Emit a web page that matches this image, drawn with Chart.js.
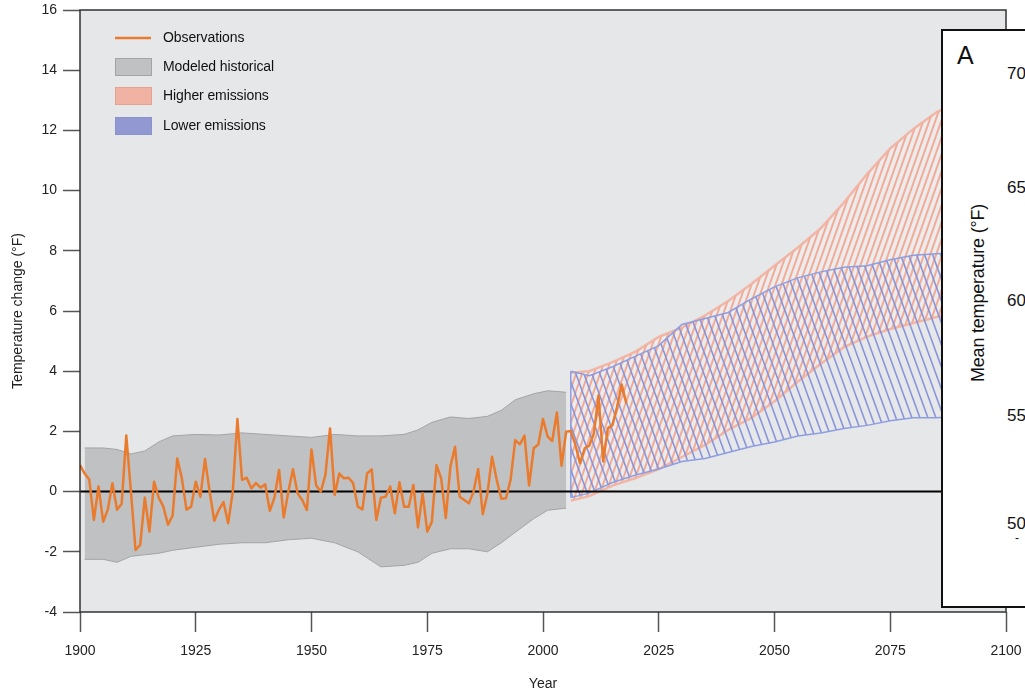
<!DOCTYPE html>
<html>
<head>
<meta charset="utf-8">
<script src="https://cdn.jsdelivr.net/npm/chart.js@4.4.1/dist/chart.umd.min.js"></script>
<style>
  html, body { margin: 0; padding: 0; background: #fff; overflow: hidden; }
  #wrap { position: relative; width: 1025px; height: 693px; }
  canvas { display: block; }
  #inset { position: absolute; left: 941px; top: 29px; width: 130px; height: 575px;
           border: 2px solid #111; background: #fff; font-family: 'Liberation Sans', Arial, sans-serif; color: #111; }
  #inset .lbl { position: absolute; white-space: nowrap; }
</style>
</head>
<body>
<div id="wrap">
  <canvas id="c" width="1025" height="693"></canvas>
  <div id="inset">
    <div class="lbl" style="left:14px; top:10px; font-size:25px;">A</div>
    <div class="lbl" style="left:35px; top:262px; font-size:18px; letter-spacing:-0.2px; transform:translate(-50%,-50%) rotate(-90deg);">Mean temperature (°F)</div>
    <div class="lbl" style="left:64px; top:33px; font-size:17px;">70</div>
    <div class="lbl" style="left:64px; top:147px; font-size:17px;">65</div>
    <div class="lbl" style="left:64px; top:260px; font-size:17px;">60</div>
    <div class="lbl" style="left:64px; top:375px; font-size:17px;">55</div>
    <div class="lbl" style="left:64px; top:483px; font-size:17px;">50</div>
    <div class="lbl" style="left:72px; top:500px; font-size:12px;">-</div>
  </div>
</div>
<script>
// ---------- data ----------
const obsFirstYear = 1900;
const observations = [
  0.88, 0.6, 0.4, -0.94, 0.17, -1.0, -0.6, 0.28, -0.6, -0.4,
  1.86, 0.0, -1.94, -1.77, -0.2, -1.33, 0.33, -0.2, -0.5, -1.1,
  -0.8, 1.1, 0.44, -0.6, -0.5, 0.33, -0.17, 1.08, 0.0, -0.97,
  -0.6, -0.35, -1.05, 0.0, 2.41, 0.39, 0.46, 0.11, 0.28, 0.13,
  0.24, -0.64, -0.2, 0.72, -0.86, 0.0, 0.74, -0.06, -0.28, -0.61,
  1.4, 0.2, 0.0, 0.55, 2.1, -0.11, 0.6, 0.44, 0.46, 0.28,
  -0.5, -0.59, 0.6, 0.74, -0.94, -0.2, -0.17, 0.17, -0.72, 0.31,
  -0.5, -0.5, 0.22, -1.19, -0.05, -1.33, -1.0, 0.88, 0.44, -0.88,
  0.83, 1.49, -0.17, -0.28, -0.39, 0.0, 0.75, -0.75, -0.06, 1.16,
  0.39, -0.24, -0.22, 0.39, 1.71, 1.57, 1.86, 0.2, 1.44, 1.57,
  2.41, 1.83, 1.68, 2.63, 0.86, 1.99, 2.01, 1.55, 0.94, 1.44,
  1.53, 1.94, 3.19, 1.0, 2.1, 2.21, 2.82, 3.56, 2.93
];

const histYears = [1901,1905,1908,1911,1914,1917,1920,1925,1930,1935,1940,1945,1950,1955,1960,1965,1970,1973,1976,1980,1984,1988,1991,1994,1998,2001,2005];
const histUpper = [1.45,1.45,1.4,1.25,1.35,1.65,1.85,1.9,1.88,1.95,1.9,1.85,1.8,1.9,1.85,1.85,1.9,2.05,2.3,2.48,2.43,2.5,2.7,3.05,3.25,3.35,3.3];
const histLower = [-2.25,-2.25,-2.35,-2.15,-2.1,-2.05,-1.95,-1.85,-1.75,-1.7,-1.7,-1.6,-1.55,-1.7,-2.0,-2.5,-2.45,-2.35,-2.05,-1.9,-1.9,-2.0,-1.7,-1.35,-0.9,-0.62,-0.55];

const projYears   = [2006,2010,2015,2020,2025,2030,2035,2040,2045,2050,2055,2060,2065,2070,2075,2080,2085,2090];
const higherUpper = [3.95,4.0,4.3,4.65,5.14,5.45,5.85,6.33,6.9,7.5,8.1,8.75,9.6,10.55,11.4,12.05,12.6,13.0];
const higherLower = [-0.3,-0.15,0.2,0.45,0.75,1.15,1.55,2.05,2.45,3.0,3.65,4.25,4.8,5.15,5.4,5.6,5.8,5.95];
const lowerUpper  = [4.0,3.85,4.15,4.5,4.85,5.55,5.75,5.95,6.4,6.8,7.1,7.3,7.45,7.5,7.7,7.85,7.9,7.95];
const lowerLower  = [-0.2,-0.05,0.3,0.55,0.75,1.0,1.1,1.3,1.5,1.65,1.85,1.95,2.1,2.2,2.35,2.45,2.45,2.5];

const zeroYears = [1900, 2100];
const zeroValues = [0, 0];

const legendLabels = ['Observations', 'Modeled historical', 'Higher emissions', 'Lower emissions'];
const yTicksRange = { min: -4, max: 16, step: 2 };
const xTicksRange = { min: 1900, max: 2100, step: 25 };

// ---------- helpers ----------
const pts = (xs, ys) => xs.map((x, i) => ({ x: x, y: ys[i] }));
const obsPts = observations.map((v, i) => ({ x: obsFirstYear + i, y: v }));

function makeHatch(color, dir, spacing, lineW, bg) {
  const w = spacing, h = Math.round(spacing * 2.8);
  const c = document.createElement('canvas');
  c.width = w; c.height = h;
  const g = c.getContext('2d');
  if (bg) { g.fillStyle = bg; g.fillRect(0, 0, w, h); }
  g.strokeStyle = color; g.lineWidth = lineW;
  for (let k = -1; k <= 1; k++) {
    g.beginPath();
    if (dir > 0) { g.moveTo(k * w - w, 2 * h); g.lineTo(k * w + 2 * w, -h); }
    else { g.moveTo(k * w - w, -h); g.lineTo(k * w + 2 * w, 2 * h); }
    g.stroke();
  }
  return g.createPattern(c, 'repeat');
}

const ctx = document.getElementById('c').getContext('2d');
const pinkHatch = makeHatch('rgba(240,168,148,0.95)', 1, 6, 2, 'rgba(255,250,248,0.3)');
const blueHatch = makeHatch('rgba(132,144,218,0.95)', -1, 8, 1.6, null);

const FONT = "'Liberation Sans', Arial, sans-serif";

const decor = {
  id: 'decor',
  beforeDraw(chart) {
    const { ctx, chartArea: a } = chart;
    ctx.save();
    ctx.fillStyle = '#e6e7e8';
    ctx.fillRect(a.left, a.top, a.right - a.left, a.bottom - a.top);
    ctx.restore();
  },
  afterDatasetDraw(chart, args) {
    if (args.index !== 5) return;
    const { ctx } = chart;
    const xs = chart.scales.x, ys = chart.scales.y;
    ctx.save();
    ctx.strokeStyle = '#8e9ee0';
    ctx.lineWidth = 1.5;
    const x = xs.getPixelForValue(projYears[0]);
    ctx.beginPath();
    ctx.moveTo(x, ys.getPixelForValue(lowerUpper[0]));
    ctx.lineTo(x, ys.getPixelForValue(lowerLower[0]));
    ctx.stroke();
    ctx.restore();
  },
  afterDraw(chart) {
    const { ctx, chartArea: a } = chart;
    ctx.save();
    ctx.strokeStyle = '#333';
    ctx.lineWidth = 1.5;
    ctx.strokeRect(a.left, a.top, a.right - a.left, a.bottom - a.top);
    // legend
    const lx = a.left + 35, tx = a.left + 83;
    const rows = [a.top + 28, a.top + 57, a.top + 86, a.top + 116];
    ctx.strokeStyle = '#ea7b2c'; ctx.lineWidth = 2.5;
    ctx.beginPath(); ctx.moveTo(lx, rows[0]); ctx.lineTo(lx + 36, rows[0]); ctx.stroke();
    const boxes = [
      { fill: '#c0c1c3', stroke: '#a3a4a6' },
      { fill: '#f0b3a3', stroke: '#e8a090' },
      { fill: '#9299d2', stroke: '#8a92cc' }
    ];
    boxes.forEach((b, i) => {
      const y = rows[i + 1] - 9;
      ctx.fillStyle = b.fill; ctx.fillRect(lx, y, 37, 18);
      ctx.strokeStyle = b.stroke; ctx.lineWidth = 1; ctx.strokeRect(lx + 0.5, y + 0.5, 36, 17);
    });
    ctx.fillStyle = '#111';
    ctx.font = '14px ' + FONT;
    ctx.textBaseline = 'middle';
    ctx.textAlign = 'left';
    if ('letterSpacing' in ctx) ctx.letterSpacing = '-0.1px';
    legendLabels.forEach((t, i) => ctx.fillText(t, tx, rows[i]));
    ctx.restore();
  }
};

new Chart(ctx, {
  type: 'line',
  data: {
    datasets: [
      { label: 'histLower', data: pts(histYears, histLower), borderColor: '#a3a4a6', borderWidth: 1, pointRadius: 0, fill: false, order: 5 },
      { label: 'Modeled historical', data: pts(histYears, histUpper), borderColor: '#a3a4a6', borderWidth: 1, pointRadius: 0, fill: '-1', backgroundColor: '#c0c1c3', order: 5 },
      { label: 'higherLower', data: pts(projYears, higherLower), borderColor: 'rgba(242,176,158,0.9)', borderWidth: 2.5, pointRadius: 0, fill: false, order: 4 },
      { label: 'Higher emissions', data: pts(projYears, higherUpper), borderColor: 'rgba(242,176,158,0.9)', borderWidth: 2.5, pointRadius: 0, fill: '-1', backgroundColor: pinkHatch, order: 4 },
      { label: 'lowerLower', data: pts(projYears, lowerLower), borderColor: '#8e9ee0', borderWidth: 1.5, pointRadius: 0, fill: false, order: 3 },
      { label: 'Lower emissions', data: pts(projYears, lowerUpper), borderColor: '#8e9ee0', borderWidth: 1.5, pointRadius: 0, fill: '-1', backgroundColor: blueHatch, order: 3 },
      { label: 'zero', data: pts(zeroYears, zeroValues), borderColor: '#000', borderWidth: 2, pointRadius: 0, fill: false, order: 2 },
      { label: 'Observations', data: obsPts, borderColor: '#ea7b2c', borderWidth: 2.5, pointRadius: 0, fill: false, order: 1, borderJoinStyle: 'round' }
    ]
  },
  options: {
    responsive: false,
    animation: false,
    layout: { padding: { left: 0, right: 19, top: 10, bottom: 0 } },
    plugins: { legend: { display: false }, tooltip: { enabled: false } },
    elements: { line: { tension: 0 } },
    scales: {
      x: {
        type: 'linear', min: xTicksRange.min, max: xTicksRange.max,
        border: { display: false },
        grid: { drawOnChartArea: false, drawTicks: true, tickLength: 20, tickColor: '#555', tickWidth: 1.5 },
        ticks: { stepSize: xTicksRange.step, padding: 11, color: '#222', font: { family: FONT, size: 14 }, callback: v => String(v), maxRotation: 0 },
        title: { display: true, text: 'Year', color: '#222', font: { family: FONT, size: 14 }, padding: { top: 0, bottom: 0 } },
        afterFit(s) { s.height = 81; s.paddingLeft = 0; s.paddingRight = 0; }
      },
      y: {
        min: yTicksRange.min, max: yTicksRange.max,
        border: { display: false },
        grid: { drawOnChartArea: false, drawTicks: true, tickLength: 17, tickColor: '#555', tickWidth: 1.5 },
        ticks: { stepSize: yTicksRange.step, padding: 6, color: '#222', font: { family: FONT, size: 14 } },
        title: { display: true, text: 'Temperature change (°F)', color: '#222', font: { family: FONT, size: 14 }, padding: { top: 10, bottom: 0 } },
        afterFit(s) { s.width = 80; s.paddingTop = 0; s.paddingBottom = 0; }
      }
    }
  },
  plugins: [decor]
});
</script>
</body>
</html>
